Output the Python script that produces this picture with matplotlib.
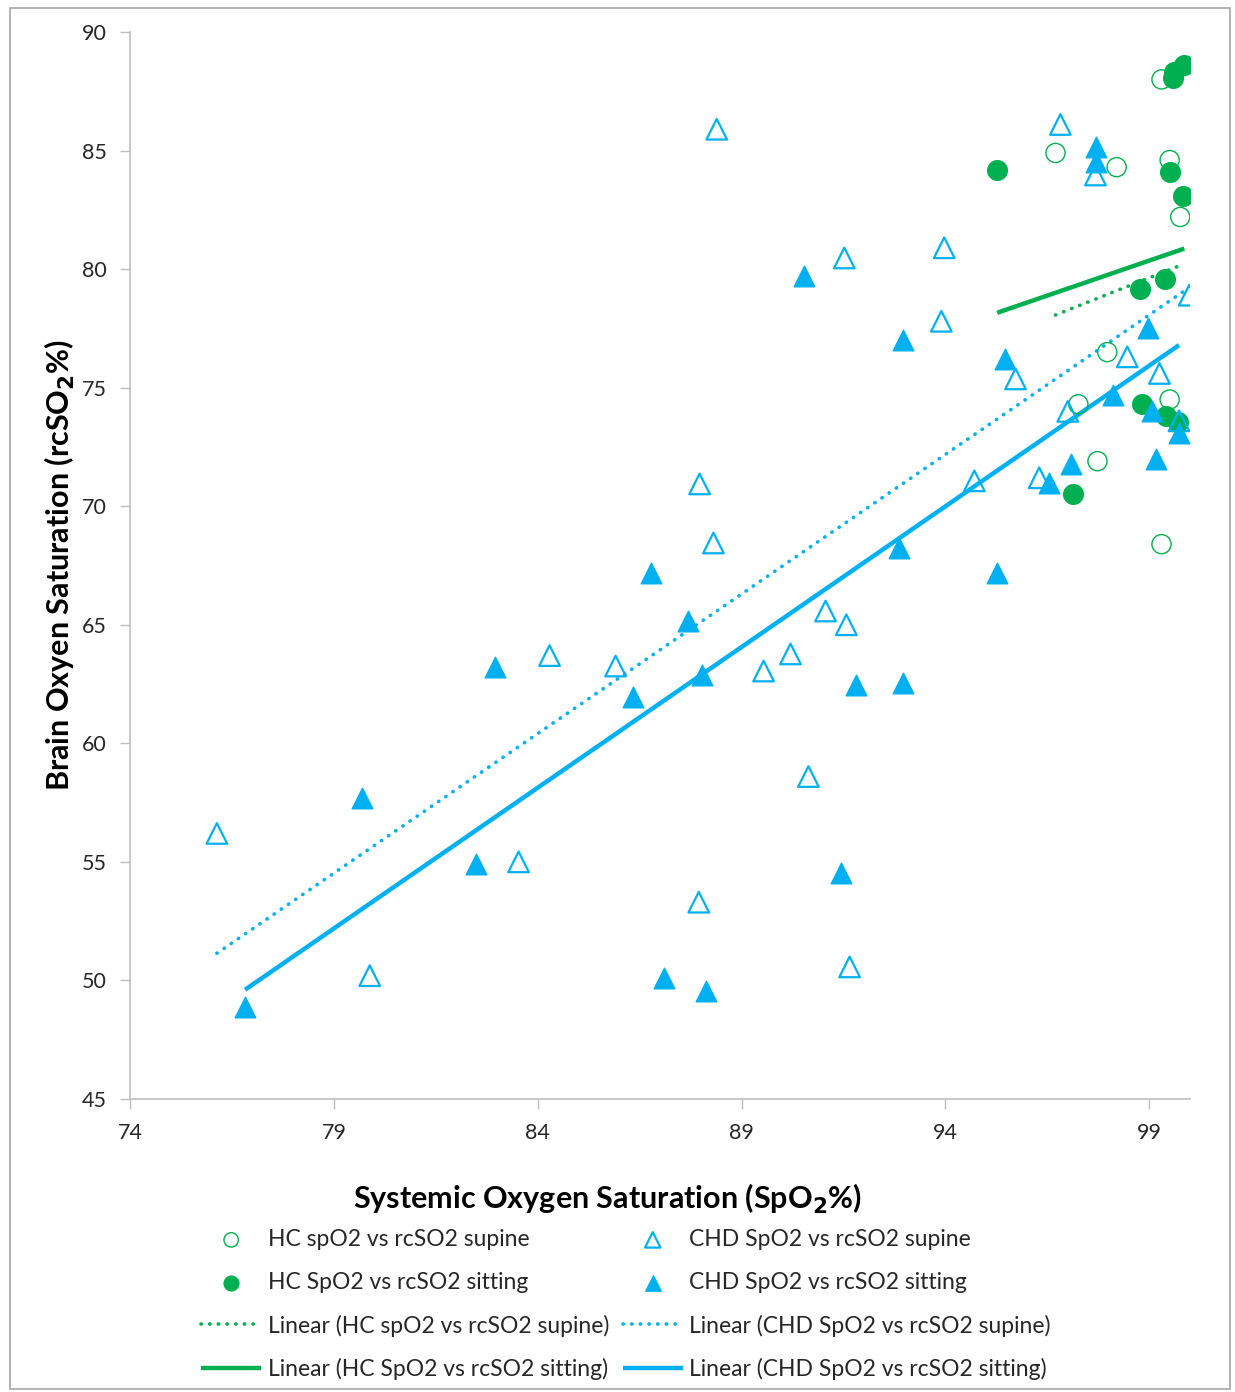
import numpy as np
import matplotlib
matplotlib.use("Agg")
import matplotlib.pyplot as plt
from matplotlib.patches import Rectangle

plt.rcParams['font.family'] = ['Lato', 'DejaVu Sans']

GREEN = '#00B050'
BLUE = '#00B0F0'

# HC supine (open circles)
hc_sup_x = [99.3, 96.7, 98.2, 99.5, 99.76, 97.97, 97.26, 99.5, 97.73, 99.3]
hc_sup_y = [88.0, 84.9, 84.3, 84.6, 82.2, 76.5, 74.3, 74.5, 71.9, 68.4]

# HC sitting (filled circles)
hc_sit_x = [99.86, 99.6, 99.59, 95.27, 99.5, 99.83, 98.78, 99.39, 98.83, 99.4, 99.7, 97.14]
hc_sit_y = [88.6, 88.3, 88.05, 84.2, 84.1, 83.1, 79.15, 79.6, 74.3, 73.8, 73.55, 70.5]

# CHD supine (open triangles)
chd_sup_x = [76.13, 79.88, 83.53, 84.29, 85.91, 87.97, 88.31, 88.39, 87.95, 89.54,
             90.2, 91.06, 91.57, 90.64, 91.65, 91.52, 93.9, 93.97, 94.71, 95.72,
             96.3, 96.82, 97.0, 97.68, 98.46, 99.25, 99.98, 99.73]
chd_sup_y = [56.2, 50.2, 55.0, 63.7, 63.26, 70.94, 68.45, 85.9, 53.3, 63.05,
             63.77, 65.58, 65.0, 58.6, 50.57, 80.47, 77.8, 80.9, 71.07, 75.37,
             71.2, 86.1, 74.0, 83.97, 76.3, 75.6, 78.9, 73.6]

# CHD sitting (filled triangles)
chd_sit_x = [76.82, 79.69, 82.48, 82.95, 86.33, 86.77, 87.09, 87.68, 88.02, 88.12,
             90.54, 91.43, 91.8, 92.85, 92.97, 92.97, 95.27, 95.47, 96.55, 97.09,
             97.7, 97.7, 98.12, 98.98, 99.07, 99.17, 99.73]
chd_sit_y = [48.9, 57.7, 54.9, 63.2, 61.95, 67.2, 50.1, 65.16, 62.9, 49.55,
             79.7, 54.53, 62.46, 68.24, 77.0, 62.55, 67.18, 76.2, 71.0, 71.8,
             85.15, 84.5, 74.7, 77.5, 74.0, 72.0, 73.1]

# HC trendlines (slope, intercept); the visible HC points
# do not reproduce them, some points are probably hidden under others
hc_sup_fit = (0.683, 12.02)
hc_sit_fit = (0.59, 21.95)

x_ticks = [74, 79, 84, 89, 94, 99]
y_ticks = [45, 50, 55, 60, 65, 70, 75, 80, 85, 90]

DOTS = (0, (0.1, 2.3))


def trend(ax, xs, ys, color, ls, lw, label, fit=None):
    xs = np.array(xs)
    if fit is None:
        fit = np.polyfit(xs, ys, 1)
    k, b = fit
    xx = np.array([xs.min(), xs.max()])
    return ax.plot(xx, k * xx + b, color=color, ls=ls, lw=lw, label=label,
                   dash_capstyle='round', solid_capstyle='butt')[0]


fig = plt.figure(figsize=(12.35, 13.92), dpi=100)
ax = fig.add_axes([0.1053, 0.2105, 0.8583, 0.7665])

h1 = ax.scatter(hc_sup_x, hc_sup_y, s=190, facecolors='none', edgecolors=GREEN,
                linewidths=1.0, marker='o', label='HC spO2 vs rcSO2 supine', zorder=3)
h2 = ax.scatter(hc_sit_x, hc_sit_y, s=200, color=GREEN, marker='o',
                label='HC SpO2 vs rcSO2 sitting', zorder=3)
h3 = ax.scatter(chd_sup_x, chd_sup_y, s=220, facecolors='none', edgecolors=BLUE,
                linewidths=1.6, marker='^', label='CHD SpO2 vs rcSO2 supine', zorder=3)
h4 = ax.scatter(chd_sit_x, chd_sit_y, s=220, color=BLUE, marker='^',
                label='CHD SpO2 vs rcSO2 sitting', zorder=3)

l1 = trend(ax, hc_sup_x, hc_sup_y, GREEN, DOTS, 2.6, 'Linear (HC spO2 vs rcSO2 supine)', hc_sup_fit)
l2 = trend(ax, hc_sit_x, hc_sit_y, GREEN, '-', 3.2, 'Linear (HC SpO2 vs rcSO2 sitting)', hc_sit_fit)
l3 = trend(ax, chd_sup_x, chd_sup_y, BLUE, DOTS, 2.6, 'Linear (CHD SpO2 vs rcSO2 supine)')
l4 = trend(ax, chd_sit_x, chd_sit_y, BLUE, '-', 3.2, 'Linear (CHD SpO2 vs rcSO2 sitting)')

ax.set_xlim(74, 100)
ax.set_ylim(45, 90)
ax.set_xticks(x_ticks)
ax.set_yticks(y_ticks)
for s in ['top', 'right']:
    ax.spines[s].set_visible(False)
for s in ['left', 'bottom']:
    ax.spines[s].set_color('#bfbfbf')
    ax.spines[s].set_linewidth(1.2)
ax.tick_params(axis='both', colors='#bfbfbf', labelcolor='#262626', labelsize=15.5,
               length=7, width=1.0)
ax.tick_params(axis='x', pad=10)
ax.tick_params(axis='y', pad=10)

ax.set_xlabel('Systemic Oxygen Saturation (SpO$_\\mathbf{2}$%)', fontsize=22,
              fontweight='bold')
ax.xaxis.set_label_coords(0.45, -0.078)
ax.set_ylabel('Brain Oxyen Saturation (rcSO$_\\mathbf{2}$%)', fontsize=22,
              fontweight='bold', labelpad=3)

handles = [h1, h2, l1, l2, h3, h4, l3, l4]
leg = fig.legend(handles=handles, labels=[h.get_label() for h in handles],
                 loc='upper center', bbox_to_anchor=(0.507, 0.132), ncol=2,
                 frameon=False, fontsize=16.5, handlelength=2.6, handletextpad=0.3,
                 columnspacing=0.6, labelspacing=0.95, markerscale=0.75)
for t in leg.get_texts():
    t.set_color('#262626')

fig.patches.append(Rectangle((0.008, 0.002), 0.988, 0.992, transform=fig.transFigure,
                             fill=False, edgecolor='#a6a6a6', lw=1.2))

fig.savefig('out.png', dpi=100)
